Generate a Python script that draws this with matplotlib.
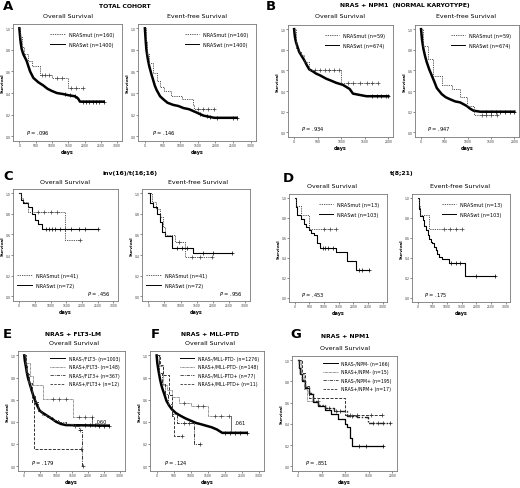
import numpy as np
import matplotlib
matplotlib.use("Agg")
import matplotlib.pyplot as plt
from matplotlib.lines import Line2D

W, H = 520, 489

# ---- data (days, survival) ----
# A: total cohort
a_os_wt_t = [0, 20, 40, 70, 120, 220, 330, 430, 580, 735, 860, 990, 1150, 1350, 1500, 1700, 1800, 1860, 2590]
a_os_wt_s = [1.0, 0.93, 0.87, 0.81, 0.76, 0.70, 0.60, 0.54, 0.50, 0.47, 0.44, 0.42, 0.40, 0.39, 0.38, 0.37, 0.35, 0.32, 0.32]
a_os_wt_c = [1400, 1550, 1700, 1950, 2050, 2150, 2250, 2350, 2450]
a_os_mut_t = [0, 30, 80, 150, 275, 380, 630, 990, 1500, 1960]
a_os_mut_s = [1.0, 0.92, 0.83, 0.76, 0.70, 0.65, 0.57, 0.54, 0.45, 0.45]
a_os_mut_c = [700, 800, 900, 1150, 1300, 1600, 1750]
a_efs_wt_t = [0, 20, 40, 80, 123, 180, 226, 280, 330, 430, 530, 640, 800, 945, 1100, 1250, 1460, 1665, 1970, 2600]
a_efs_wt_s = [1.0, 0.90, 0.81, 0.72, 0.65, 0.58, 0.53, 0.47, 0.43, 0.37, 0.34, 0.31, 0.29, 0.28, 0.26, 0.25, 0.22, 0.19, 0.17, 0.17]
a_efs_wt_c = [1550, 1750, 1850, 2050, 2500]
a_efs_mut_t = [0, 30, 70, 123, 226, 330, 430, 535, 740, 1050, 1356, 1400, 1970]
a_efs_mut_s = [1.0, 0.88, 0.76, 0.68, 0.59, 0.51, 0.46, 0.42, 0.37, 0.34, 0.29, 0.25, 0.25]
a_efs_mut_c = [1500, 1650, 1800]

# B: NRAS + NPM1 (normal karyotype)
b_os_wt_t = [0, 15, 36, 70, 107, 160, 214, 270, 321, 400, 464, 560, 680, 790, 893, 1036, 1180, 1250, 1536, 2000]
b_os_wt_s = [1.0, 0.93, 0.88, 0.83, 0.78, 0.74, 0.70, 0.65, 0.61, 0.59, 0.57, 0.55, 0.52, 0.50, 0.48, 0.46, 0.42, 0.375, 0.35, 0.35]
b_os_wt_c = [1650, 1750, 1850, 1950]
b_os_mut_t = [0, 36, 100, 143, 214, 320, 1000, 1786]
b_os_mut_s = [1.0, 0.81, 0.78, 0.75, 0.68, 0.60, 0.48, 0.48]
b_os_mut_c = [450, 550, 650, 750, 850, 950, 1150, 1250, 1400, 1550, 1650]
b_efs_wt_t = [0, 20, 50, 85, 122, 175, 230, 285, 337, 390, 444, 530, 624, 730, 839, 982, 1050, 1125, 1269, 2000]
b_efs_wt_s = [1.0, 0.90, 0.81, 0.74, 0.68, 0.61, 0.55, 0.49, 0.43, 0.40, 0.37, 0.34, 0.32, 0.30, 0.29, 0.255, 0.23, 0.21, 0.20, 0.20]
b_efs_wt_c = [1400, 1500, 1600, 1700, 1800, 1900]
b_efs_mut_t = [0, 50, 150, 265, 444, 660, 839, 982, 1125, 1630]
b_efs_mut_s = [1.0, 0.84, 0.71, 0.55, 0.46, 0.42, 0.34, 0.255, 0.17, 0.17]
b_efs_mut_c = [1300, 1400, 1500]

# C: inv(16)/t(16;16)
c_os_wt_t = [0, 53, 138, 297, 403, 509, 615, 721, 2520]
c_os_wt_s = [1.0, 0.93, 0.90, 0.865, 0.80, 0.74, 0.705, 0.65, 0.65]
c_os_wt_c = [850, 950, 1050, 1150, 1300, 1450, 1650, 1900, 2100]
c_os_mut_t = [0, 53, 138, 297, 1463, 1940]
c_os_mut_s = [1.0, 0.95, 0.91, 0.82, 0.55, 0.55]
c_os_mut_c = [600, 800, 1000, 1200]
c_efs_wt_t = [0, 50, 155, 258, 362, 434, 517, 724, 1396, 2585]
c_efs_wt_s = [1.0, 0.90, 0.865, 0.80, 0.72, 0.625, 0.58, 0.47, 0.42, 0.42]
c_efs_wt_c = [900, 1050, 1200, 1700, 2000]
c_efs_mut_t = [0, 100, 250, 360, 465, 520, 827, 1137, 1960]
c_efs_mut_s = [1.0, 0.91, 0.85, 0.77, 0.67, 0.59, 0.53, 0.38, 0.38]
c_efs_mut_c = [950, 1350, 1600]

# D: t(8;21)
d_os_wt_t = [0, 33, 89, 200, 311, 400, 478, 560, 644, 756, 867, 1422, 1780, 2080, 2533]
d_os_wt_s = [1.0, 0.91, 0.825, 0.79, 0.74, 0.71, 0.68, 0.65, 0.63, 0.545, 0.50, 0.46, 0.37, 0.28, 0.28]
d_os_wt_c = [950, 1050, 1150, 1300, 2200, 2300]
d_os_mut_t = [0, 30, 200, 478, 1422]
d_os_mut_s = [1.0, 0.92, 0.825, 0.69, 0.69]
d_os_mut_c = [1000, 1200]
d_efs_wt_t = [0, 30, 90, 168, 230, 280, 340, 392, 450, 504, 560, 616, 670, 728, 840, 1064, 1600, 2632]
d_efs_wt_s = [1.0, 0.89, 0.82, 0.775, 0.72, 0.68, 0.63, 0.59, 0.56, 0.545, 0.51, 0.48, 0.44, 0.41, 0.385, 0.35, 0.22, 0.22]
d_efs_wt_c = [1150, 1300, 1450, 2000]
d_efs_mut_t = [0, 30, 90, 392, 1512]
d_efs_mut_s = [1.0, 0.92, 0.825, 0.69, 0.69]
d_efs_mut_c = [900, 1100, 1300]

# E: NRAS + FLT3-LM
e_nn_t = [0, 20, 51, 85, 123, 175, 226, 280, 329, 400, 483, 580, 689, 850, 997, 1150, 1305, 2640]
e_nn_s = [1.0, 0.95, 0.90, 0.84, 0.79, 0.74, 0.69, 0.64, 0.60, 0.55, 0.50, 0.48, 0.46, 0.43, 0.40, 0.38, 0.37, 0.365]
e_nn_c = [1900, 2050, 2200, 2350, 2500]
e_pn_t = [0, 50, 175, 277, 600, 1510, 2130]
e_pn_s = [1.0, 0.93, 0.81, 0.73, 0.61, 0.44, 0.44]
e_pn_c = [900, 1100, 1300, 1700, 1900]
e_nf_t = [0, 30, 70, 120, 175, 250, 330, 431, 560, 700, 900, 1100, 1300, 1510, 1700, 1820, 1840]
e_nf_s = [1.0, 0.92, 0.84, 0.76, 0.69, 0.63, 0.58, 0.50, 0.46, 0.44, 0.42, 0.40, 0.38, 0.36, 0.33, 0.0, 0.0]
e_nf_c = [1600, 1750]
e_pp_t = [0, 40, 90, 150, 230, 290, 1770]
e_pp_s = [1.0, 0.92, 0.83, 0.75, 0.58, 0.15, 0.15]

# F: NRAS + MLL-PTD
f_nn_t = [0, 20, 50, 102, 140, 184, 235, 287, 360, 440, 560, 696, 850, 1003, 1150, 1310, 1617, 1770, 1924, 2640]
f_nn_s = [1.0, 0.93, 0.87, 0.78, 0.73, 0.685, 0.64, 0.59, 0.55, 0.515, 0.48, 0.455, 0.43, 0.41, 0.39, 0.377, 0.35, 0.33, 0.30, 0.30]
f_nn_c = [2000, 2150, 2300, 2450]
f_pn_t = [0, 60, 184, 300, 440, 650, 1000, 1510, 2130]
f_pn_s = [1.0, 0.90, 0.73, 0.685, 0.62, 0.57, 0.54, 0.45, 0.45]
f_pn_c = [800, 1200, 1350, 1700, 1900]
f_nm_t = [0, 80, 160, 235, 330, 440, 594, 1105, 1260]
f_nm_s = [1.0, 0.84, 0.74, 0.65, 0.56, 0.47, 0.39, 0.20, 0.20]
f_nm_c = [800, 950]
f_pm_t = [0, 100, 200, 350, 450, 520, 750]
f_pm_s = [1.0, 0.91, 0.82, 0.64, 0.45, 0.27, 0.27]

# G: NRAS + NPM1
g_nn_t = [0, 20, 50, 83, 152, 221, 324, 428, 566, 703, 850, 1000, 1048, 1100, 1150, 1807]
g_nn_s = [1.0, 0.93, 0.87, 0.80, 0.74, 0.68, 0.61, 0.57, 0.535, 0.49, 0.45, 0.40, 0.37, 0.27, 0.19, 0.19]
g_nn_c = [1300, 1450]
g_pn_t = [0, 60, 130, 180, 430]
g_pn_s = [1.0, 0.87, 0.73, 0.62, 0.62]
g_nm_t = [0, 20, 50, 83, 152, 221, 324, 428, 566, 772, 980, 1048, 1255, 1480, 1945]
g_nm_s = [1.0, 0.93, 0.87, 0.81, 0.75, 0.69, 0.62, 0.58, 0.55, 0.52, 0.52, 0.47, 0.465, 0.41, 0.41]
g_nm_c = [650, 800, 900, 1150, 1600, 1700, 1800]
g_pp_t = [0, 80, 150, 230, 1000, 1772]
g_pp_s = [1.0, 0.88, 0.76, 0.64, 0.48, 0.48]
g_pp_c = [1100, 1250, 1550]

two_labels = {
    "A": ["NRASmut (n=160)", "NRASwt (n=1400)"],
    "B": ["NRASmut (n=59)", "NRASwt (n=674)"],
    "C": ["NRASmut (n=41)", "NRASwt (n=72)"],
    "D": ["NRASmut (n=13)", "NRASwt (n=103)"],
}
e_labels = ["NRAS-/FLT3- (n=1003)", "NRAS+/FLT3- (n=148)", "NRAS-/FLT3+ (n=367)", "NRAS+/FLT3+ (n=12)"]
f_labels = ["NRAS-/MLL-PTD- (n=1276)", "NRAS+/MLL-PTD- (n=148)", "NRAS-/MLL-PTD+ (n=77)", "NRAS+/MLL-PTD+ (n=11)"]
g_labels = ["NRAS-/NPM- (n=166)", "NRAS+/NPM- (n=15)", "NRAS-/NPM+ (n=195)", "NRAS+/NPM+ (n=17)"]

MUT = (0, (1.5, 1.2))
DOT = (0, (0.8, 0.8))
DASHDOT = (0, (4, 1.2, 1, 1.2))
DASH = (0, (3, 1.5))

fig = plt.figure(figsize=(W / 100, H / 100), dpi=100)
fig.patch.set_facecolor("white")


def panel(l, t, r, b, xmax):
    ax = fig.add_axes([l / W, 1 - b / H, (r - l) / W, (b - t) / H])
    ax.set_xlim(-0.065 * xmax, 1.05 * xmax)
    ax.set_ylim(-0.045, 1.04)
    ax.set_xticks(np.arange(0, xmax + 1, 500))
    ax.set_yticks(np.arange(0, 1.01, 0.2))
    ax.set_yticklabels(["0.0", "0.2", "0.4", "0.6", "0.8", "1.0"])
    ax.tick_params(labelsize=2.2, length=1.2, width=0.4, pad=0.4, colors="#333333")
    for sp in ax.spines.values():
        sp.set_linewidth(0.6)
        sp.set_color("#777777")
    ax.set_ylabel("Survival", fontsize=3.1, fontweight="bold")
    ax.yaxis.set_label_coords(-8.5 / (r - l), 0.5)
    ax.set_xlabel("days", fontsize=3.5, fontweight="bold", labelpad=1.5)
    return ax


def km(ax, t, s, cens=(), lw=0.7, ls="-", color="black", step=True):
    ds = "steps-post" if step else "default"
    ax.plot(t, s, color=color, lw=lw, ls=ls, drawstyle=ds)
    ct = np.append(np.asarray(cens, dtype=float), t[-1])
    if step:
        cy = np.asarray(s)[np.searchsorted(t, ct, side="right") - 1]
    else:
        cy = np.interp(ct, t, s)
    ax.plot(ct, cy, ls="none", marker="+", ms=2.2, mew=0.5, color=color)


def pval(ax, txt, right=False):
    if right:
        ax.text(0.93, 0.05, "$P$ = " + txt, transform=ax.transAxes, fontsize=3.7, ha="right")
    else:
        ax.text(0.12, 0.06, "$P$ = " + txt, transform=ax.transAxes, fontsize=3.7)


def legend2(ax, labels, loc):
    h = [Line2D([], [], color="#444444", lw=0.6, ls=MUT),
         Line2D([], [], color="black", lw=0.7)]
    ax.legend(h, labels, loc=loc, frameon=False, fontsize=3.5, handlelength=3,
              handletextpad=0.8, labelspacing=1.1, borderaxespad=1.2)


def legend4(ax, labels):
    h = [Line2D([], [], color="black", lw=0.7),
         Line2D([], [], color="#444444", lw=0.6, ls=DOT),
         Line2D([], [], color="#333333", lw=0.6, ls=DASHDOT),
         Line2D([], [], color="#333333", lw=0.6, ls=DASH)]
    ax.legend(h, labels, loc="upper right", frameon=False, fontsize=3.3, handlelength=3.2,
              handletextpad=0.8, labelspacing=0.75, borderaxespad=0.7)


def fig_text(x, y, s, size, bold=False, ha="center"):
    fig.text(x / W, 1 - y / H, s, fontsize=size, ha=ha, va="center",
             fontweight="bold" if bold else "normal")


SUB = 4.5
HEAD = 4.4
LET = 9.5

# ---- A ----
fig_text(3, 7, "A", LET, True, "left")
fig_text(125, 6, "TOTAL COHORT", HEAD, True)
fig_text(68, 16, "Overall Survival", SUB)
fig_text(197, 16, "Event-free Survival", SUB)
ax = panel(13, 25, 122, 142, 3000)
km(ax, a_os_wt_t, a_os_wt_s, a_os_wt_c, lw=1.8, step=False)
km(ax, a_os_mut_t, a_os_mut_s, a_os_mut_c, lw=0.6, ls=MUT, color="#444444")
legend2(ax, two_labels["A"], "upper right")
pval(ax, ".096")
ax = panel(138, 25, 256, 142, 3000)
km(ax, a_efs_wt_t, a_efs_wt_s, a_efs_wt_c, lw=1.8, step=False)
km(ax, a_efs_mut_t, a_efs_mut_s, a_efs_mut_c, lw=0.6, ls=MUT, color="#444444")
legend2(ax, two_labels["A"], "upper right")
pval(ax, ".146")

# ---- B ----
fig_text(266, 7, "B", LET, True, "left")
fig_text(405, 5, "NRAS + NPM1  (NORMAL KARYOTYPE)", HEAD, True)
fig_text(340, 17, "Overall Survival", SUB)
fig_text(466, 17, "Event-free Survival", SUB)
ax = panel(288, 26, 393, 138, 2000)
km(ax, b_os_wt_t, b_os_wt_s, b_os_wt_c, lw=1.8, step=False)
km(ax, b_os_mut_t, b_os_mut_s, b_os_mut_c, lw=0.6, ls=MUT, color="#444444")
legend2(ax, two_labels["B"], "upper right")
pval(ax, ".934")
ax = panel(415, 26, 519, 138, 2000)
km(ax, b_efs_wt_t, b_efs_wt_s, b_efs_wt_c, lw=1.8, step=False)
km(ax, b_efs_mut_t, b_efs_mut_s, b_efs_mut_c, lw=0.6, ls=MUT, color="#444444")
legend2(ax, two_labels["B"], "upper right")
pval(ax, ".947")

# ---- C ----
fig_text(3, 177, "C", LET, True, "left")
fig_text(130, 173, "inv(16)/t(16;16)", HEAD, True)
fig_text(65, 183, "Overall Survival", SUB)
fig_text(198, 183, "Event-free Survival", SUB)
ax = panel(13, 190, 118, 302, 3000)
km(ax, c_os_wt_t, c_os_wt_s, c_os_wt_c, lw=0.8)
km(ax, c_os_mut_t, c_os_mut_s, c_os_mut_c, lw=0.6, ls=MUT, color="#444444")
legend2(ax, two_labels["C"], (0.02, 0.1))
pval(ax, ".456", right=True)
ax = panel(142, 190, 250, 302, 3000)
km(ax, c_efs_wt_t, c_efs_wt_s, c_efs_wt_c, lw=0.8)
km(ax, c_efs_mut_t, c_efs_mut_s, c_efs_mut_c, lw=0.6, ls=MUT, color="#444444")
legend2(ax, two_labels["C"], (0.02, 0.1))
pval(ax, ".956", right=True)

# ---- D ----
fig_text(283, 179, "D", LET, True, "left")
fig_text(402, 173, "t(8;21)", HEAD, True)
fig_text(332, 187, "Overall Survival", SUB)
fig_text(460, 187, "Event-free Survival", SUB)
ax = panel(289, 195, 387, 303, 3000)
km(ax, d_os_wt_t, d_os_wt_s, d_os_wt_c, lw=0.8)
km(ax, d_os_mut_t, d_os_mut_s, d_os_mut_c, lw=0.6, ls=MUT, color="#444444")
legend2(ax, two_labels["D"], "upper right")
pval(ax, ".453")
ax = panel(412, 195, 510, 303, 3000)
km(ax, d_efs_wt_t, d_efs_wt_s, d_efs_wt_c, lw=0.8)
km(ax, d_efs_mut_t, d_efs_mut_s, d_efs_mut_c, lw=0.6, ls=MUT, color="#444444")
legend2(ax, two_labels["D"], "upper right")
pval(ax, ".175")

# ---- E ----
fig_text(3, 335, "E", LET, True, "left")
fig_text(73, 335, "NRAS + FLT3-LM", HEAD, True)
fig_text(74, 344, "Overall Survival", SUB)
ax = panel(18, 352, 125, 472, 3000)
km(ax, e_nn_t, e_nn_s, e_nn_c, lw=1.8, step=False)
km(ax, e_pn_t, e_pn_s, e_pn_c, lw=0.6, ls=DOT, color="#444444")
km(ax, e_nf_t, e_nf_s, e_nf_c, lw=0.7, ls=DASHDOT, color="#333333")
km(ax, e_pp_t, e_pp_s, lw=0.7, ls=DASH, color="#333333")
legend4(ax, e_labels)
ax.plot([2130, 2130], [0.44, 0.365], color="black", lw=0.4)
ax.text(2230, 0.40, ".060", fontsize=3.6, va="center")
pval(ax, ".179")

# ---- F ----
fig_text(151, 335, "F", LET, True, "left")
fig_text(210, 335, "NRAS + MLL-PTD", HEAD, True)
fig_text(210, 344, "Overall Survival", SUB)
ax = panel(150, 352, 264, 472, 3000)
km(ax, f_nn_t, f_nn_s, f_nn_c, lw=1.8, step=False)
km(ax, f_pn_t, f_pn_s, f_pn_c, lw=0.6, ls=DOT, color="#444444")
km(ax, f_nm_t, f_nm_s, f_nm_c, lw=0.7, ls=DASHDOT, color="#333333")
km(ax, f_pm_t, f_pm_s, lw=0.7, ls=DASH, color="#333333")
legend4(ax, f_labels)
ax.plot([2180, 2180], [0.45, 0.32], color="black", lw=0.4)
ax.text(2280, 0.39, ".061", fontsize=3.6, va="center")
pval(ax, ".124")

# ---- G ----
fig_text(290, 335, "G", LET, True, "left")
fig_text(345, 337, "NRAS + NPM1", HEAD, True)
fig_text(345, 349, "Overall Survival", SUB)
ax = panel(292, 357, 397, 472, 2000)
km(ax, g_nn_t, g_nn_s, g_nn_c, lw=0.9)
km(ax, g_pn_t, g_pn_s, lw=0.6, ls=DOT, color="#444444")
km(ax, g_nm_t, g_nm_s, g_nm_c, lw=1.0, ls=DASHDOT, color="#222222")
km(ax, g_pp_t, g_pp_s, g_pp_c, lw=0.7, ls=DASH, color="#333333")
legend4(ax, g_labels)
pval(ax, ".851")

fig.savefig("out.png", dpi=100, facecolor="white")
